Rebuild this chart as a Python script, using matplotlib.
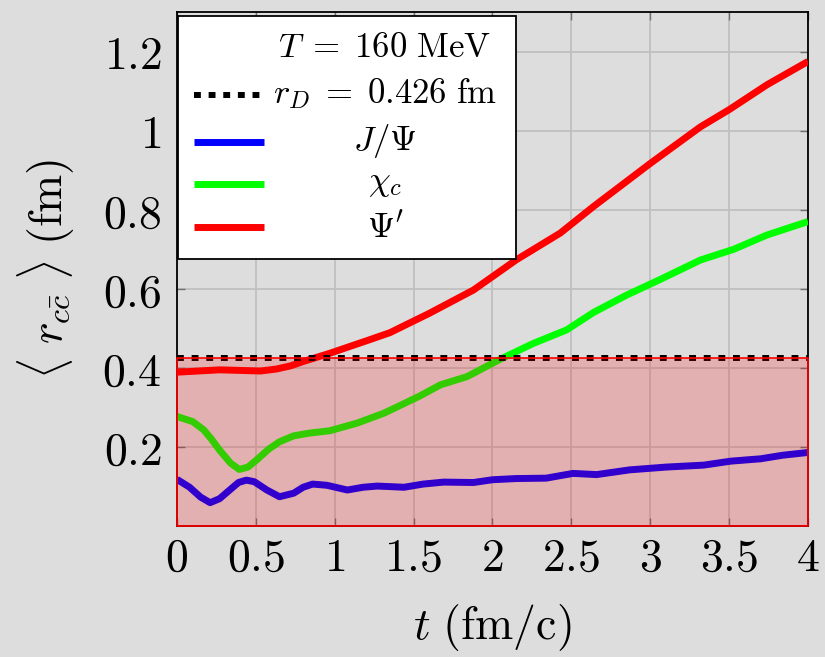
import numpy as np
import matplotlib
matplotlib.use("Agg")
import matplotlib.pyplot as plt
from matplotlib.patches import Rectangle

plt.rcParams["mathtext.fontset"] = "cm"
plt.rcParams["font.family"] = "serif"

# Debye screening radius and temperature
r_D = 0.426
T_MeV = 160

# mean c-cbar separation vs time
t_jpsi = [0.0, 0.08, 0.15, 0.21, 0.27, 0.34, 0.39, 0.44, 0.49, 0.57, 0.65, 0.74, 0.8, 0.86,
          0.95, 1.08, 1.18, 1.27, 1.44, 1.56, 1.69, 1.88, 2.0, 2.15, 2.34, 2.51, 2.66, 2.87,
          3.1, 3.34, 3.51, 3.7, 3.84, 4.0]
r_jpsi = [0.118, 0.098, 0.073, 0.059, 0.069, 0.093, 0.110, 0.116, 0.112, 0.091, 0.074, 0.083,
          0.098, 0.106, 0.103, 0.091, 0.098, 0.101, 0.098, 0.106, 0.111, 0.110, 0.117, 0.120,
          0.121, 0.133, 0.130, 0.142, 0.149, 0.154, 0.164, 0.170, 0.179, 0.186]

t_chic = [0.0, 0.1, 0.17, 0.22, 0.27, 0.34, 0.395, 0.45, 0.505, 0.58, 0.65, 0.74, 0.84, 0.97,
          1.05, 1.14, 1.31, 1.41, 1.54, 1.67, 1.84, 1.94, 2.05, 2.26, 2.47, 2.64, 2.85, 3.06,
          3.32, 3.53, 3.74, 4.0]
r_chic = [0.277, 0.264, 0.243, 0.219, 0.192, 0.159, 0.143, 0.149, 0.167, 0.194, 0.213, 0.228,
          0.235, 0.241, 0.25, 0.26, 0.285, 0.304, 0.329, 0.357, 0.378, 0.399, 0.422, 0.462,
          0.496, 0.54, 0.584, 0.623, 0.673, 0.70, 0.736, 0.770]

t_psi2s = [0.0, 0.27, 0.53, 0.63, 0.72, 0.8, 0.97, 1.22, 1.35, 1.6, 1.88, 2.15, 2.43, 2.64,
           3.0, 3.32, 3.5, 3.74, 4.0]
r_psi2s = [0.389, 0.395, 0.392, 0.397, 0.405, 0.416, 0.437, 0.471, 0.489, 0.538, 0.597, 0.673,
           0.741, 0.808, 0.917, 1.01, 1.053, 1.116, 1.175]

x_ticks = [0, 0.5, 1, 1.5, 2, 2.5, 3, 3.5, 4]
y_ticks = [0.2, 0.4, 0.6, 0.8, 1.0, 1.2]

bg = "#dcdddc"
dots = (0, (1.15, 1.3))

fig = plt.figure(figsize=(8.25, 6.57), dpi=100, facecolor=bg)
ax = fig.add_axes([0.2145, 0.1994, 0.7649, 0.7823], facecolor=bg)

line_kw = dict(lw=5, zorder=3, solid_joinstyle="round", solid_capstyle="butt")
ax.plot(t_jpsi, r_jpsi, color="blue", **line_kw)
ax.plot(t_chic, r_chic, color="#00ff00", **line_kw)
ax.plot(t_psi2s, r_psi2s, color="red", **line_kw)
ax.axhline(r_D, color="black", lw=4.3, linestyle=dots, dash_capstyle="butt", zorder=3)

# screened region below r_D
ax.fill_between([0, 4], 0, r_D, facecolor=(1, 0, 0, 0.2), edgecolor="red",
                lw=1.2, zorder=4, clip_on=False)

ax.set_xlim(0, 4)
ax.set_ylim(0, 1.3)
ax.set_xticks(x_ticks)
ax.set_xticklabels([f"${v:g}$" for v in x_ticks])
ax.set_yticks(y_ticks)
ax.set_yticklabels([f"${v:g}$" for v in y_ticks])
ax.tick_params(direction="in", length=6, width=1, color="#707070",
               top=True, right=True, labelsize=33)
ax.tick_params(axis="y", pad=11)
ax.tick_params(axis="x", pad=7)
ax.grid(True, color="#c0c0c0", lw=1.3)
ax.set_axisbelow(True)
for sp in ax.spines.values():
    sp.set_linewidth(1.3)
    sp.set_color("black")

ax.set_xlabel(r"$t\ (\mathrm{fm/c})$", fontsize=33, va="center")
ax.xaxis.set_label_coords(0.5, -0.198)
ax.set_ylabel(r"$\langle\ r_{c\bar{c}}\ \rangle\ (\mathrm{fm})$", fontsize=33, va="center")
ax.yaxis.set_label_coords(-0.207, 0.5)

# legend box
ax.add_patch(Rectangle((0.0016, 0.5195), 0.5356, 0.4727, transform=ax.transAxes,
                       facecolor="white", edgecolor="black", lw=1.3, zorder=6, clip_on=False))
tx = 0.3296
ax.text(tx, 0.9125, rf"$T\;=\;{T_MeV}\ \mathrm{{MeV}}$", transform=ax.transAxes,
        ha="center", va="baseline", fontsize=25, zorder=7)
rows = [
    (0.8385, 0.823, "black", dots, 4.3, rf"$r_D\;=\;{r_D}\ \mathrm{{fm}}$"),
    (0.7471, 0.7315, "blue", "-", 5, r"$J/\Psi$"),
    (0.6654, 0.6537, "#00ff00", "-", 5, r"$\chi_c$"),
    (0.5817, 0.5623, "red", "-", 5, r"$\Psi'$"),
]
for hy, ty, c, ls, lw, lab in rows:
    ax.plot([0.0269, 0.1379], [hy, hy], color=c, lw=lw, linestyle=ls,
            dash_capstyle="butt", solid_capstyle="butt", transform=ax.transAxes,
            zorder=7, clip_on=False)
    ax.text(tx, ty, lab, transform=ax.transAxes, ha="center", va="baseline",
            fontsize=25, zorder=7)

fig.savefig("out.png", dpi=100, facecolor=bg)
